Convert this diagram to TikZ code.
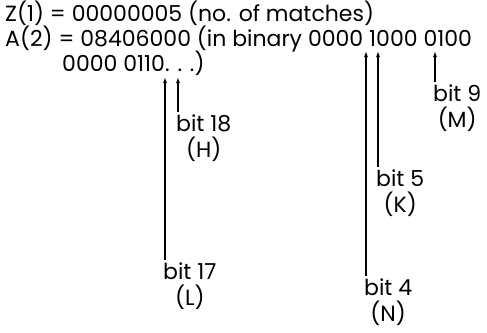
\documentclass[tikz,border=0pt]{standalone}
\usepackage{fontspec}
\setmainfont{Poppins}
\usetikzlibrary{arrows.meta}

\tikzset{
    txt/.style={anchor=base west, inner sep=0pt},
    bitlbl/.style={anchor=north west, inner sep=0pt, align=center,
        font=\fontsize{22}{26}\selectfont},
    arr/.style={-{Latex[length=6pt,width=4pt]}, line width=1.3pt, shorten <=3pt}
}

\begin{document}
\begin{tikzpicture}[x=1pt, y=1pt, font=\fontsize{22}{28}\selectfont]

    \useasboundingbox (0, 0) rectangle (487, -332);

    % The register contents
    \node[txt] (zline) at (5, -21) {Z(1) = 00000005 (no. of matches)};
    \node[txt] (aline) at (5, -46) {A(2) = 08406000 (in binary 0000 1000 0100};
    \node[txt] (bline) at (62, -71) {0000 0110. . .)};

    % Arrow tips under the bits
    \coordinate (t4) at (366, -51);
    \coordinate (t5) at (378, -51);
    \coordinate (t9) at (435, -51);
    \coordinate (t17) at (165, -77);
    \coordinate (t18) at (178, -77);

    % Make the bit labels
    \node[bitlbl] (l4) at (364, -279) {bit 4\\(N)};
    \node[bitlbl] (l5) at (376, -170) {bit 5\\(K)};
    \node[bitlbl] (l9) at (433, -85) {bit 9\\(M)};
    \node[bitlbl] (l17) at (163, -263) {bit 17\\(L)};
    \node[bitlbl] (l18) at (176, -115) {bit 18\\(H)};

    \foreach \b in {4, 5, 9, 17, 18}{
        \draw[arr] (l\b.north west -| t\b) -- (t\b);
    }

\end{tikzpicture}
\end{document}
